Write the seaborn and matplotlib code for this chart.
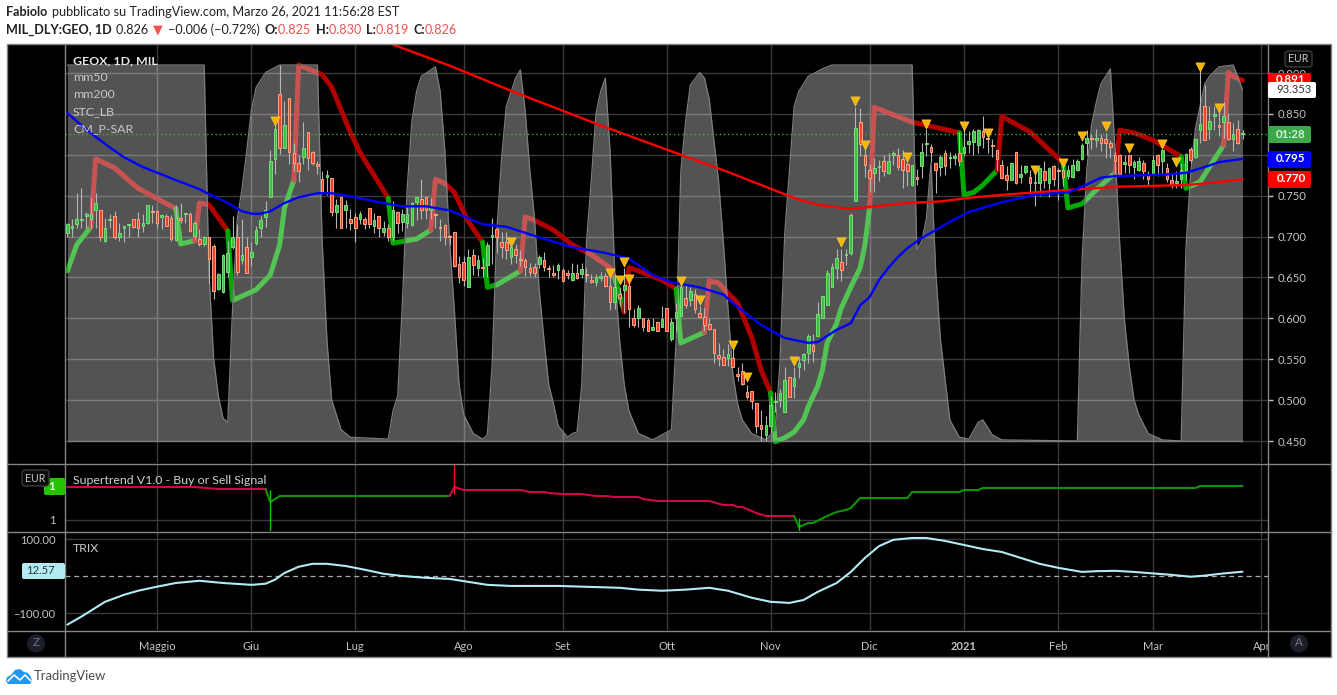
import numpy as np
import pandas as pd
import matplotlib
matplotlib.use("Agg")
import matplotlib.pyplot as plt
from matplotlib.patches import Circle, FancyBboxPatch, Polygon, Rectangle
from matplotlib.transforms import Bbox
import seaborn as sns

# candles, one value per trading day (bar 0 = first bar on the chart)
opens = [
    .704, .711, .715, .720, .725, .722, .732, .732, .694, .720,
    .725, .700, .711, .714, .721, .721, .713, .717, .731, .731,
    .724, .725, .723, .696, .723, .727, .727, .701, .697, .691,
    .700, .689, .636, .632, .657, .687, .700, .671, .687, .675,
    .692, .710, .724, .749, .795, .874, .808, .870, .802, .790,
    .797, .828, .803, .789, .770, .773, .772, .730, .748, .732,
    .722, .724, .721, .721, .735, .713, .725, .705, .711, .700,
    .730, .718, .717, .714, .742, .746, .748, .732, .727, .711,
    .714, .701, .706, .667, .669, .638, .678, .661, .663, .665,
    .700, .709, .693, .693, .675, .685, .672, .671, .661, .663,
    .667, .671, .662, .656, .659, .659, .655, .647, .656, .654,
    .654, .647, .644, .649, .652, .640, .620, .630, .635, .640,
    .601, .600, .601, .598, .586, .596, .589, .613, .575, .601,
    .603, .625, .622, .630, .606, .602, .593, .587, .555, .553,
    .552, .552, .532, .535, .510, .511, .497, .470, .457, .468,
    .498, .500, .486, .528, .517, .540, .549, .558, .567, .578,
    .601, .616, .638, .661, .669, .677, .680, .743, .840, .800,
    .781, .778, .785, .793, .778, .800, .800, .795, .789, .763,
    .773, .786, .813, .810, .790, .785, .802, .796, .796, .802,
    .802, .813, .816, .812, .829, .820, .812, .806, .788, .775,
    .769, .804, .773, .779, .773, .765, .765, .780, .765, .786,
    .781, .781, .774, .773, .781, .795, .815, .820, .818, .820,
    .819, .815, .800, .800, .789, .800, .785, .781, .790, .775,
    .777, .800, .792, .784, .769, .766, .770, .780, .807, .797,
    .830, .860, .831, .848, .836, .840, .840, .819, .832, .825,
]
highs = [
    .717, .721, .753, .760, .730, .748, .753, .732, .723, .727,
    .731, .716, .713, .715, .722, .730, .728, .738, .738, .732,
    .726, .727, .726, .738, .741, .729, .730, .719, .709, .701,
    .700, .691, .656, .679, .695, .725, .715, .722, .699, .693,
    .713, .725, .744, .806, .837, .910, .866, .870, .814, .800,
    .840, .828, .805, .793, .780, .781, .772, .746, .748, .745,
    .734, .729, .731, .724, .735, .729, .725, .719, .715, .743,
    .731, .734, .736, .742, .749, .770, .749, .747, .729, .722,
    .715, .702, .706, .676, .676, .685, .685, .678, .674, .693,
    .723, .711, .705, .705, .693, .691, .684, .674, .668, .668,
    .678, .681, .665, .665, .668, .662, .659, .668, .666, .668,
    .662, .654, .654, .657, .655, .654, .654, .638, .661, .654,
    .611, .616, .601, .601, .600, .597, .615, .613, .601, .619,
    .643, .642, .638, .636, .615, .613, .601, .587, .570, .563,
    .569, .562, .540, .546, .519, .511, .497, .488, .481, .505,
    .510, .513, .540, .528, .540, .553, .558, .581, .581, .620,
    .627, .659, .668, .685, .685, .685, .729, .859, .857, .817,
    .789, .796, .794, .800, .802, .805, .808, .806, .800, .788,
    .783, .815, .831, .813, .790, .800, .806, .804, .802, .828,
    .831, .829, .832, .831, .847, .829, .819, .806, .794, .786,
    .790, .804, .787, .788, .782, .782, .784, .792, .785, .787,
    .784, .794, .788, .795, .795, .815, .830, .825, .831, .825,
    .827, .818, .804, .801, .800, .800, .794, .797, .794, .780,
    .800, .801, .807, .790, .776, .780, .790, .802, .810, .821,
    .905, .885, .860, .860, .856, .864, .851, .839, .842, .830,
]
lows = [
    .699, .699, .711, .711, .711, .710, .710, .694, .693, .710,
    .697, .694, .693, .699, .711, .700, .706, .715, .717, .711,
    .709, .713, .695, .695, .717, .716, .705, .697, .689, .689,
    .642, .624, .635, .631, .651, .685, .653, .666, .656, .664,
    .690, .700, .712, .749, .777, .801, .808, .789, .780, .767,
    .789, .782, .788, .776, .755, .751, .725, .711, .710, .710,
    .708, .693, .715, .709, .711, .704, .700, .701, .694, .694,
    .704, .707, .711, .713, .720, .721, .721, .721, .710, .694,
    .690, .690, .663, .643, .640, .638, .653, .652, .651, .651,
    .666, .680, .674, .673, .666, .668, .664, .652, .652, .650,
    .662, .658, .651, .650, .648, .644, .648, .646, .648, .649,
    .644, .643, .640, .646, .638, .610, .611, .615, .607, .590,
    .590, .589, .585, .584, .586, .585, .589, .585, .572, .585,
    .603, .613, .615, .607, .602, .585, .586, .546, .542, .543,
    .542, .540, .523, .518, .501, .489, .460, .450, .450, .460,
    .485, .491, .486, .504, .502, .527, .537, .546, .547, .578,
    .601, .616, .638, .648, .646, .665, .678, .743, .798, .773,
    .754, .754, .768, .774, .776, .788, .782, .760, .762, .762,
    .763, .772, .798, .791, .753, .774, .775, .784, .787, .786,
    .799, .802, .800, .802, .808, .802, .797, .782, .770, .757,
    .769, .764, .766, .776, .752, .737, .750, .760, .749, .762,
    .745, .762, .770, .772, .780, .794, .800, .807, .809, .805,
    .796, .796, .776, .775, .778, .778, .770, .780, .770, .762,
    .776, .774, .775, .767, .760, .760, .760, .769, .790, .796,
    .815, .818, .819, .830, .823, .821, .818, .805, .813, .819,
]
closes = [
    .715, .712, .721, .722, .728, .728, .741, .699, .711, .722,
    .700, .704, .713, .715, .712, .710, .717, .738, .730, .717,
    .726, .713, .697, .723, .720, .728, .707, .717, .691, .699,
    .672, .634, .654, .678, .680, .700, .657, .677, .656, .681,
    .708, .720, .733, .793, .832, .808, .837, .804, .790, .780,
    .808, .796, .790, .786, .755, .775, .730, .739, .711, .739,
    .717, .711, .727, .715, .715, .720, .711, .711, .700, .732,
    .716, .727, .728, .741, .749, .732, .732, .737, .726, .710,
    .700, .699, .664, .650, .647, .675, .665, .671, .661, .690,
    .702, .700, .687, .684, .687, .678, .671, .663, .657, .656,
    .675, .663, .660, .653, .665, .646, .653, .656, .649, .660,
    .653, .645, .650, .652, .640, .620, .638, .625, .641, .611,
    .592, .613, .589, .585, .589, .585, .599, .585, .595, .608,
    .638, .616, .634, .611, .602, .592, .587, .558, .551, .543,
    .557, .541, .530, .520, .504, .499, .468, .465, .469, .494,
    .499, .509, .525, .504, .527, .545, .557, .579, .560, .605,
    .627, .656, .663, .674, .659, .679, .726, .833, .813, .787,
    .772, .784, .786, .780, .793, .802, .785, .782, .780, .787,
    .771, .804, .815, .803, .781, .797, .786, .797, .799, .793,
    .810, .817, .829, .830, .822, .819, .811, .795, .772, .769,
    .790, .765, .777, .786, .765, .767, .784, .769, .784, .770,
    .780, .773, .782, .787, .793, .812, .820, .819, .820, .814,
    .814, .810, .792, .777, .791, .788, .791, .792, .780, .771,
    .794, .787, .806, .771, .763, .767, .781, .801, .794, .819,
    .838, .818, .841, .849, .834, .848, .819, .826, .814, .826,
]

# mm50 / mm200
mm50_bars = [0, 3, 6, 9, 12, 16, 20, 23, 28, 30, 34, 37, 39, 41, 43, 46, 49, 53, 56, 61, 67, 71, 76, 81, 88, 93,
             100, 107, 114, 119, 124, 128, 134, 139, 142, 147, 152, 157, 159, 163, 166, 168, 170,
             172, 174, 176, 178, 181, 187, 191, 198, 205, 212, 215, 219, 222, 228, 233, 237, 241, 244, 249]
mm50_vals = [.851, .836, .822, .809, .797, .785, .776, .769, .758, .752, .741, .731, .728, .728, .731, .741, .748,
             .753, .753, .748, .741, .737, .737, .732, .715, .712, .699, .687, .680, .673, .653, .644, .638, .629,
             .614, .592, .576, .570, .571, .586, .594, .616, .626, .647, .662, .675, .686, .698, .718, .730, .742,
             .751, .754, .761, .772, .774, .775, .776, .778, .785, .791, .795]
mm200_bars = [68, 81, 95, 113, 130, 140, 155, 159, 164, 166, 171, 178, 185, 192, 198, 212, 223, 237, 241, 249]
mm200_vals = [.937, .909, .876, .836, .800, .779, .745, .739, .735, .734, .737, .741, .743, .748,
              .751, .757, .761, .763, .765, .770]

# STC_LB, 0-100 oscillator drawn over the price pane
stc_bars = [0, 29, 30, 31, 32, 33, 34, 35, 36, 37, 38, 39, 40, 42, 45, 53, 54, 55, 56, 58, 60,
            68, 69, 70, 71, 72, 73, 74, 75, 78, 79, 80, 81, 82, 83, 84, 86, 88, 89, 90, 91, 92,
            93, 95, 96, 97, 98, 99, 100, 101, 102, 103, 104, 106, 107, 108, 109, 110, 111, 112,
            113, 114, 115, 116, 117, 118, 119, 121, 124, 128, 129, 130, 131, 132, 134, 135, 136,
            137, 138, 139, 140, 141, 142, 143, 145, 148, 150, 151, 152, 153, 154, 155, 157, 160,
            162, 179, 180, 181, 182, 183, 184, 185, 187, 189, 191, 193, 194, 196, 198, 214, 215,
            216, 217, 218, 219, 221, 222, 223, 224, 225, 226, 227, 229, 232, 236, 237, 238, 239,
            240, 241, 242, 244, 247, 248, 249]
stc_vals = [100, 100, 45, 22, 12, 6, 5, 35, 59, 67, 77, 88, 94, 98, 100, 100, 53, 27, 11, 3, 1,
            .5, 8, 12, 37, 67, 85, 93, 97, 99.5, 93, 77, 53, 35, 15, 7, 2, .5, 1.6, 20, 56, 75,
            89, 96.5, 98.7, 88, 72, 59, 40, 27, 15, 10, 4, 1, 2, 2.4, 15, 53, 69, 87,
            93, 96.5, 77, 45, 27, 15, 8, 2, .3, 3, 27, 72, 85, 94.7, 98, 96.5, 91,
            80, 69, 53, 35, 18, 10, 5.6, 2, .3, 3, 21, 55, 72, 89, 93, 97, 99,
            100, 100, 51, 53, 59, 74, 45, 27, 5.6, 1, .5, 5, 5.6, 1.6, .3, 0, 48,
            72, 84, 90, 95, 99, 77, 52, 32, 20, 11, 7, 2, .3, 0, 51, 71, 83,
            89, 95, 97, 99.5, 100, 97, 93.353]

# CM_P-SAR, one list per trend leg
sar_legs = ["up", "down", "up", "down", "up", "down", "up", "down", "up", "down", "up",
            "down", "up", "down", "up", "down", "up", "down", "up", "down", "up", "down"]
sar_bars = [
    [0, 2, 5], [5, 6, 10, 15, 23], [23, 24, 27], [27, 28, 30, 34],
    [34, 35, 40, 43, 45, 46, 48], [48, 49, 54, 56, 57, 60, 62, 65, 68], [68, 69, 74, 77],
    [77, 78, 80, 82, 85, 88], [88, 89, 91, 96], [96, 97, 99, 103, 107, 111, 115, 116],
    [116, 118], [118, 119, 121, 126, 129], [129, 130, 135], [135, 136, 138, 142, 145, 147, 149],
    [149, 150, 152, 154, 156, 157, 159, 160, 161, 163, 164, 166, 168, 169, 170],
    [170, 171, 179, 189], [189, 190, 192, 194, 197],
    [197, 198, 204, 211], [211, 212, 215, 218, 222], [222, 223, 226, 230, 236],
    [236, 237, 240, 245], [245, 246, 247, 249],
]
sar_vals = [
    [.658, .690, .712], [.712, .795, .784, .759, .734], [.734, .691, .695], [.695, .741, .739, .707],
    [.707, .622, .635, .653, .690, .735, .769], [.769, .910, .898, .883, .869, .827, .803, .775, .747],
    [.747, .692, .697, .708], [.708, .770, .765, .754, .718, .693], [.693, .638, .641, .658],
    [.658, .724, .720, .708, .690, .678, .662, .649], [.649, .608], [.608, .662, .658, .647, .636],
    [.636, .570, .583], [.583, .646, .643, .619, .577, .537, .509],
    [.509, .449, .454, .461, .476, .492, .517, .537, .570, .594, .613, .638, .662, .690, .736],
    [.736, .858, .840, .827],
    [.827, .751, .754, .763, .781], [.781, .847, .828, .790], [.790, .735, .740, .757, .778],
    [.778, .830, .827, .818, .798], [.798, .759, .767, .812], [.812, .901, .896, .891],
]

signal_bars = [44, 94, 115, 117, 118, 119, 130, 134, 141, 144, 154, 164, 167, 169, 178, 182,
               190, 195, 205, 211, 215, 220, 225, 232, 235, 240, 244]
signal_vals = [.841, .693, .655, .647, .669, .648, .646, .622, .567, .528, .548, .693, .866,
               .812, .797, .838, .835, .827, .781, .790, .823, .835, .808, .813, .791, .907, .857]

# Supertrend pane
st_legs = ["sell", "buy", "sell", "buy"]
st_bars = [
    [0, 27, 32, 42], [42, 43, 45, 81],
    [81, 82, 84, 96, 98, 101, 102, 105, 109, 112, 114, 116, 121, 122, 125, 136, 139, 141, 142,
     143, 146, 148, 154],
    [154, 155, 157, 158, 161, 163, 165, 166, 168, 178, 179, 189, 190, 193, 194, 239, 240, 249],
]
st_vals = [
    [1.33, 1.33, 1.31, 1.31], [1.31, 1.18, 1.24, 1.24],
    [1.24, 1.33, 1.30, 1.30, 1.28, 1.28, 1.27, 1.26, 1.26, 1.24, 1.24, 1.23, 1.23, 1.21, 1.19,
     1.19, 1.15, 1.15, 1.13, 1.13, 1.07, 1.04, 1.04],
    [1.04, .93, .97, .97, 1.04, 1.08, 1.10, 1.12, 1.22, 1.22, 1.28, 1.28, 1.30, 1.30, 1.32,
     1.32, 1.34, 1.34],
]

# TRIX pane
trix_bars = [0, 3, 6, 8, 12, 15, 19, 23, 28, 33, 39, 42, 44, 46, 49, 52, 55, 59, 63, 67, 71, 76, 81,
             85, 89, 94, 104, 117, 121, 126, 131, 136, 140, 145, 149, 153, 156, 159, 163, 166, 169,
             172, 175, 179, 182, 186, 190, 194, 198, 202, 206, 210, 215, 218, 222, 226, 230, 234,
             238, 241, 245, 249]
trix_vals = [-131, -109, -85, -69, -50, -39, -28, -18, -12, -18, -23, -20, -9, 9, 26, 34, 34, 28, 18, 7, 1, -4, -7,
             -15, -23, -26, -26, -31, -36, -39, -36, -31, -39, -58, -69, -72, -64, -42, -18, 12, 50,
             82, 99, 104, 104, 96, 85, 74, 66, 50, 34, 23, 12, 14, 15, 12, 8, 4,
             -1, 2, 8, 12.57]

# axis labels
month_bars = [19, 39, 61, 84, 105, 127, 149, 170, 190, 210, 230, 253]
month_labels = ["Maggio", "Giu", "Lug", "Ago", "Set", "Ott", "Nov", "Dic", "2021", "Feb", "Mar", "Apr"]
price_ticks = [.45, .50, .55, .60, .65, .70, .75, .80, .85, .90]
price_labels = ["0.450", "0.500", "0.550", "0.600", "0.650", "0.700", "0.750", "", "0.850", "0.900"]
pane_legend = ["GEOX, 1D, MIL", "mm50", "mm200", "STC_LB", "CM_P-SAR"]

W, H = 1337, 695
LEFT, RIGHT = 65, 1268
XLIM = (-0.49, 254.4)
GRID = "#3a3a3a"
EDGE = "#858585"
TICK = "#c4c4c4"
UP_RED = "#ef5350"
SAR_COLOR = {"up": "#00a800", "down": "#b00000"}
ST_COLOR = {"buy": "#0c9600", "sell": "#d0064c"}
SCALE_SIZE = 8.1

sns.set_theme(style="dark", rc={"axes.grid": True, "grid.color": GRID, "grid.linewidth": 1.0})
plt.rcParams["font.family"] = ["Lato", "DejaVu Sans"]


def px_rect(left, top, right, bottom):
    return [left / W, 1 - bottom / H, (right - left) / W, (bottom - top) / H]


def pane(fig, top, bottom, ylim):
    ax = fig.add_axes(px_rect(LEFT, top, RIGHT, bottom), facecolor="black")
    ax.set_xlim(*XLIM)
    ax.set_ylim(*ylim)
    ax.set_xticks(month_bars)
    ax.set_xticklabels([])
    ax.set_xlabel("")
    ax.set_ylabel("")
    ax.grid(True, color=GRID, lw=1.0, zorder=0)
    ax.set_axisbelow(True)
    for spine in ax.spines.values():
        spine.set_visible(False)
    ax.tick_params(axis="x", length=0)
    return ax


def stc_to_price(values):
    return 0.45 + np.asarray(values) / 100 * 0.4598


def draw_candles(ax):
    df = pd.DataFrame({"open": opens, "high": highs, "low": lows, "close": closes})
    df["bar"] = df.index
    rising = df["close"] >= df["open"]
    for mask, face, edge in [(rising, "#3fbf46", "#74e078"), (~rising, "#f4402c", "#ffa583")]:
        part = df[mask]
        ax.vlines(part["bar"], part["low"], part["high"], color="#b5b5b5", lw=0.8, zorder=4)
        bottom = part[["open", "close"]].min(axis=1)
        height = (part["close"] - part["open"]).abs().clip(lower=0.0015)
        ax.bar(part["bar"], height, bottom=bottom, width=0.56, color=face, edgecolor=edge,
               linewidth=0.7, zorder=5)


def draw_price_pane(ax):
    for leg, xs, ys in zip(sar_legs, sar_bars, sar_vals):
        sns.lineplot(x=xs, y=ys, ax=ax, color=SAR_COLOR[leg], lw=3.6, sort=False, errorbar=None,
                     zorder=2, solid_joinstyle="round", solid_capstyle="round")
    ax.fill_between(stc_bars, 0.45, stc_to_price(stc_vals), color="white", alpha=0.33, lw=0, zorder=3)
    sns.lineplot(x=stc_bars, y=stc_to_price(stc_vals), ax=ax, color="#7d7d7d", lw=0.9, sort=False,
                 errorbar=None, zorder=3)
    ax.hlines(0.45, 0, 249, color="#7d7d7d", lw=0.9, zorder=3)
    ax.axhline(0.825, color="#3da84a", lw=1.0, ls=(0, (1, 2)), zorder=3)
    draw_candles(ax)
    sns.lineplot(x=mm200_bars, y=mm200_vals, ax=ax, color="#ff0000", lw=1.7, sort=False, errorbar=None, zorder=6)
    sns.lineplot(x=mm50_bars, y=mm50_vals, ax=ax, color="#0000ff", lw=1.7, sort=False, errorbar=None, zorder=6)
    sns.scatterplot(x=signal_bars, y=signal_vals, ax=ax, marker="v", s=44, color="#f7b500",
                    edgecolor="#ffd84a", linewidth=0.4, zorder=7)
    ax.set_ylim(0.4231, 0.9355)
    ax.set_yticks(price_ticks)
    ax.set_yticklabels(price_labels)
    ax.yaxis.tick_right()
    ax.tick_params(axis="y", length=3.6, width=1, color=TICK, labelcolor=TICK, labelsize=SCALE_SIZE, pad=3.2)


def draw_supertrend_pane(ax):
    for leg, xs, ys in zip(st_legs, st_bars, st_vals):
        sns.lineplot(x=xs, y=ys, ax=ax, color=ST_COLOR[leg], lw=1.5, sort=False, errorbar=None, zorder=3)
    ax.vlines([43, 155], 0.89, [1.30, 1.02], color="#12c400", lw=1.0, zorder=4)
    ax.vlines([82], 1.26, 1.56, color="#ff1010", lw=1.0, zorder=4)
    ax.set_ylim(0.89, 1.56)
    ax.set_yticks([1.0])
    ax.set_yticklabels(["1"])
    ax.tick_params(axis="y", length=3.6, width=1, color=TICK, labelcolor=TICK, labelsize=SCALE_SIZE, pad=3.2)


def draw_trix_pane(ax):
    ax.axhline(0, color="#a8a8a8", lw=0.9, ls=(0, (4, 3)), zorder=2)
    sns.lineplot(x=trix_bars, y=trix_vals, ax=ax, color="#b2ebf2", lw=1.5, sort=False, errorbar=None, zorder=3)
    ax.set_ylim(-145.4, 120.2)
    ax.set_yticks([-100, 100])
    ax.set_yticklabels(["\u2212100.00", "100.00"])
    ax.tick_params(axis="y", length=3.6, width=1, color=TICK, labelcolor=TICK, labelsize=SCALE_SIZE, pad=3.2)
    ax.set_xticks(month_bars)
    ax.set_xticklabels(month_labels)
    ax.tick_params(axis="x", length=3, width=1, color=TICK, labelcolor=TICK, labelsize=8.0, pad=5)
    labels = ax.get_xticklabels()
    labels[8].set_fontweight("bold")
    labels[11].set_clip_box(Bbox.from_extents(0, 0, RIGHT, H))
    labels[11].set_clip_on(True)


def text_run(fig, ov, x, y, parts, size):
    # parts sit next to each other, so each one is placed after measuring the last
    renderer = fig.canvas.get_renderer()
    for label, color, weight in parts:
        t = ov.text(x, y, label, color=color, fontweight=weight, fontsize=size, va="center", ha="left")
        x = t.get_window_extent(renderer).x1 + (1.6 if label.endswith(" ") else 0.2)


def tag(ov, left, top, right, bottom, face, label, color, weight="bold", size=8.3, x=None):
    ov.add_patch(FancyBboxPatch((left + 2, top + 2), right - left - 4, bottom - top - 4,
                                boxstyle="round,pad=2", fc=face, ec=face, lw=0, zorder=5))
    ov.text(x if x is not None else (left + right) / 2, (top + bottom) / 2 - 0.5, label, color=color,
            fontweight=weight, fontsize=size, ha="center", va="center", zorder=6)


def draw_overlay(fig, ov):
    ov.set_xlim(0, W)
    ov.set_ylim(H, 0)
    ov.axis("off")

    # frame and pane separators
    ov.add_patch(Rectangle((7, 44), 1324, 613, fill=False, ec=EDGE, lw=1.0))
    for y in [463.5, 531.5, 630.5]:
        ov.plot([7, 1331], [y, y], color=EDGE, lw=1.0)
    for x in [LEFT, RIGHT]:
        ov.plot([x, x], [44, 657], color=EDGE, lw=1.0)

    # header
    text_run(fig, ov, 6, 12.5, [("Fabiolo ", "#222222", "bold"),
                                ("pubblicato su TradingView.com, Marzo 26, 2021 11:56:28 EST", "#222222", "normal")], 9.1)
    text_run(fig, ov, 6, 29.5, [("MIL_DLY:GEO, 1D ", "#222222", "bold"), ("0.826 ", "#222222", "normal"),
                                ("\u25bc ", UP_RED, "normal"), ("\u22120.006 (\u22120.72%) ", "#222222", "normal"),
                                ("O:", "#222222", "bold"), ("0.825 ", UP_RED, "normal"),
                                ("H:", "#222222", "bold"), ("0.830 ", UP_RED, "normal"),
                                ("L:", "#222222", "bold"), ("0.819 ", UP_RED, "normal"),
                                ("C:", "#222222", "bold"), ("0.826", UP_RED, "normal")], 9.1)

    # pane legends
    for i, label in enumerate(pane_legend):
        ov.text(73, 60.5 + 17 * i, label, color="#e6e6e6" if i == 0 else "#c8c8c8", fontsize=8.9,
                fontweight="bold" if i == 0 else "normal", va="center", zorder=6)
    ov.text(73, 480, "Supertrend V1.0 - Buy or Sell Signal", color="#d0d0d0", fontsize=8.9, va="center")
    ov.text(73, 548, "TRIX", color="#c8c8c8", fontsize=8.9, va="center")

    # right hand value tags
    tag(ov, 1268, 73, 1311, 87, "#ff0000", "0.891", "white", x=1291)
    tag(ov, 1268, 82, 1316, 98, "white", "93.353", "#333333", "normal", size=8.1, x=1294)
    tag(ov, 1268, 126, 1311, 143, "#3da84a", "01:28", "#d8f0dc", x=1291)
    tag(ov, 1268, 151, 1311, 168, "#0000ff", "0.795", "white", x=1291)
    tag(ov, 1268, 171, 1311, 188, "#ff0000", "0.770", "white", x=1291)

    # left hand value tags
    tag(ov, 44, 478, 65, 495, "#22c400", "1", "white", x=51.5)
    tag(ov, 22, 563, 65, 579, "#b2ebf2", "12.57", "#333333", "normal", size=8.1, x=40.5)

    # currency badges
    for x0, y0 in [(1285, 51), (22, 470)]:
        ov.add_patch(FancyBboxPatch((x0 + 3, y0 + 3), 21, 10, boxstyle="round,pad=3", fc="#0a0a0a",
                                    ec="#3a3a3a", lw=1.0, zorder=7))
        ov.text(x0 + 13.5, y0 + 8, "EUR", color="#c8c8c8", fontsize=7.6, ha="center", va="center", zorder=8)

    # scale mode buttons
    for cx, label in [(36, "Z"), (1299, "A")]:
        ov.add_patch(Circle((cx, 643.5), 9, fc="#1c1f2b", ec="none"))
        ov.text(cx, 643, label, color="#6f7380", fontsize=8.5, ha="center", va="center")

    # footer logo
    cloud = [(6, 681), (7, 677), (11, 675), (15, 670), (20, 669), (24, 672), (28, 673), (31, 677), (32, 681),
             (30, 684), (8, 684)]
    ov.add_patch(Polygon(cloud, closed=True, fc="#2196f3", ec="none"))
    ov.plot([8, 14, 20, 25, 31], [681, 675, 680, 675, 681], color="white", lw=1.2)
    ov.text(34, 676.5, "TradingView", color="#4a4a4a", fontsize=9.4, va="center")


def main():
    fig = plt.figure(figsize=(W / 100, H / 100), dpi=100, facecolor="white")

    bg = fig.add_axes([0, 0, 1, 1], zorder=0)
    bg.set_xlim(0, W)
    bg.set_ylim(H, 0)
    bg.axis("off")
    bg.add_patch(Rectangle((7, 44), 1324, 613, fc="black", ec="none"))

    ax_price = pane(fig, 44, 463, (0.4231, 0.9355))
    ax_st = pane(fig, 464, 531, (0.89, 1.56))
    ax_trix = pane(fig, 532, 630, (-145.4, 120.2))
    for ax in (ax_price, ax_st, ax_trix):
        ax.set_zorder(1)

    draw_price_pane(ax_price)
    draw_supertrend_pane(ax_st)
    draw_trix_pane(ax_trix)

    ov = fig.add_axes([0, 0, 1, 1], zorder=5, facecolor="none")
    draw_overlay(fig, ov)

    fig.savefig("out.png", dpi=100, facecolor="white")


if __name__ == "__main__":
    main()
